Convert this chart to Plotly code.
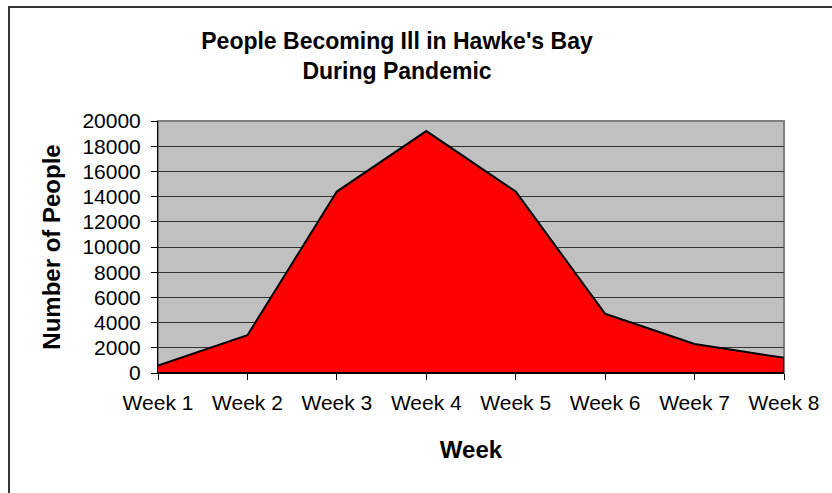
import plotly.graph_objects as go

weeks = ["Week 1", "Week 2", "Week 3", "Week 4", "Week 5", "Week 6", "Week 7", "Week 8"]
people = [600, 3000, 14400, 19200, 14400, 4700, 2300, 1200]
y_ticks = [0, 2000, 4000, 6000, 8000, 10000, 12000, 14000, 16000, 18000, 20000]

x_pos = list(range(1, len(weeks) + 1))
# closed polygon so the outline includes the right edge down to zero
poly_x = x_pos + [x_pos[-1], x_pos[0]]
poly_y = people + [0, 0]

W, H = 832, 493
L, R, T, B = 158, 48, 121, 120
pw, ph = W - L - R, H - T - B

def px_x(x):
    return (x - L) / pw

def px_y(y):
    return (H - B - y) / ph

FONT = "Liberation Sans, Arial, sans-serif"

fig = go.Figure()
fig.add_trace(go.Scatter(
    x=poly_x, y=poly_y, mode="lines", fill="toself",
    fillcolor="#FF0000", line=dict(color="#000000", width=2),
    hoverinfo="skip", showlegend=False,
))

fig.update_layout(
    width=W, height=H,
    margin=dict(l=L, r=R, t=T, b=B, autoexpand=False),
    paper_bgcolor="white", plot_bgcolor="#C0C0C0",
    font=dict(family=FONT, color="black", size=21),
    title=dict(
        text="<b>People Becoming Ill in Hawke's Bay<br>During Pandemic</b>",
        font=dict(size=23, family=FONT, color="black"),
        x=397 / W, xanchor="center", xref="container",
        y=1 - 49 / H, yanchor="middle", yref="container",
    ),
    xaxis=dict(
        range=[1, 8], tickmode="array", tickvals=x_pos, ticktext=weeks,
        showgrid=False, zeroline=False,
        showline=True, linecolor="black", linewidth=1,
        ticks="outside", ticklen=6, tickcolor="black",
        tickfont=dict(size=21, family=FONT),
        ticklabelstandoff=5,
        title=dict(text="<b>Week</b>", font=dict(size=24, family=FONT), standoff=27),
        automargin=False,
    ),
    yaxis=dict(
        range=[0, 20000], tickmode="array", tickvals=y_ticks,
        ticktext=[str(v) for v in y_ticks],
        showgrid=True, gridcolor="#333333", gridwidth=1,
        zeroline=False,
        showline=True, linecolor="black", linewidth=1,
        ticks="outside", ticklen=6, tickcolor="black",
        tickfont=dict(size=21, family=FONT),
        ticklabelstandoff=6,
        title=dict(text="<b>Number of People</b>", font=dict(size=24, family=FONT), standoff=14),
        automargin=False,
    ),
    shapes=[
        dict(type="rect", xref="paper", yref="paper", x0=0, x1=1, y0=0, y1=1,
             line=dict(color="#808080", width=2), layer="between"),
        dict(type="rect", xref="paper", yref="paper",
             x0=px_x(9), x1=px_x(836), y0=px_y(497), y1=px_y(7),
             line=dict(color="#333333", width=2), layer="above"),
    ],
)

fig.write_html(
    "out.html",
    config={"displayModeBar": False},
    post_script="document.body.style.margin='0';document.body.style.overflow='hidden';",
)
